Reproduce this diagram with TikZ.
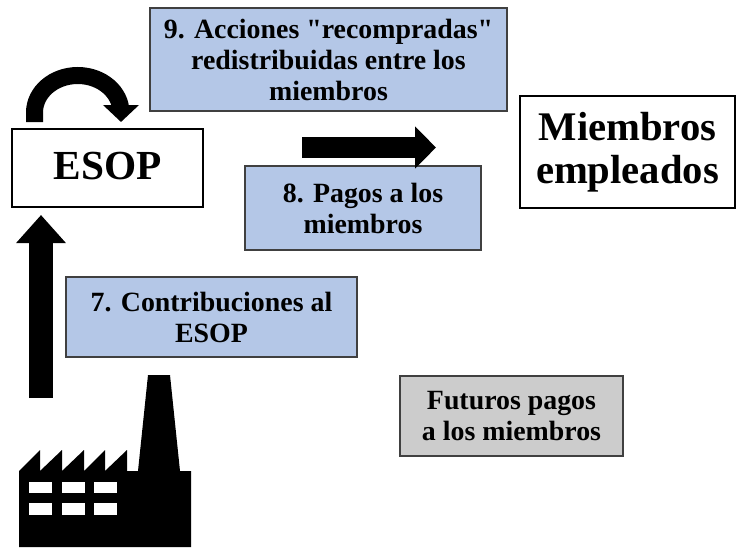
\documentclass[tikz,border=0pt]{standalone}
\usepackage{fontspec}
\setmainfont{Liberation Serif}[Ligatures=TeXOff]
\usetikzlibrary{arrows.meta}
\definecolor{azul}{HTML}{B4C7E7}
\definecolor{gris}{HTML}{CCCCCC}
\tikzset{
  caja/.style={draw=black,line width=1.9pt,fill=white,align=center,inner sep=0pt,font=\bfseries\fontsize{30.5}{32.5}\selectfont},
  nota/.style={draw=black!75,line width=0.8pt,align=center,inner sep=0pt,font=\bfseries\fontsize{20.9}{23.25}\selectfont},
  flecha/.style={draw=black,line width=#1}
}
\begin{document}
\begin{tikzpicture}[x=0.75pt,y=-0.75pt]
\useasboundingbox (0,0) rectangle (736,547);

\node[caja,minimum width=143.25pt,minimum height=58.5pt,text depth=3pt,font=\bfseries\fontsize{31}{32.5}\selectfont] (esop) at (107.5,168) {ESOP};
\node[caja,minimum width=161.25pt,minimum height=84pt] (miembros) at (627.5,152) {Miembros\\empleados};
\node[nota,fill=azul,minimum width=267.75pt,minimum height=77.25pt] (nota9) at (328.5,59.5) {9. Acciones "recompradas"\\redistribuidas entre los\\miembros};
\node[nota,fill=azul,minimum width=177pt,minimum height=63pt] (nota8) at (363,208) {8. Pagos a los\\miembros};
\node[nota,fill=azul,minimum width=218.25pt,minimum height=60pt] (nota7) at (211.5,317) {7. Contribuciones al\\ESOP};
\node[nota,fill=gris,minimum width=167.25pt,minimum height=60pt] (futuros) at (511.5,416) {Futuros pagos\\a los miembros};

% flechas
\coordinate (sale7) at (41,398);
\coordinate (llega7) at (41,215);
\coordinate (sale8) at (302,147.5);
\coordinate (llega8) at (436,147.5);
\coordinate (sale9) at (34.5,122);
\coordinate (llega9) at (121,122);
\path[flecha=18pt,-{Triangle[length=21pt,width=36pt]}] (sale7) -- (llega7);
\path[flecha=15.75pt,-{Triangle[length=15.75pt,width=30.75pt]}] (sale8) -- (llega8);
\path[flecha=12.75pt,-{Triangle[length=12.75pt,width=26.25pt]}] (sale9) -- (34.5,112.5) arc[start angle=180,end angle=360,x radius=43.25,y radius=37] -- (llega9);

% fabrica
\fill (19,547) -- (19,471) -- (40,450) -- (40,471) -- (62,450) -- (62,471) -- (84,450) -- (84,471) -- (105,450) -- (105,471) -- (127,450) -- (127,471) -- (138,471) -- (148,375) -- (170,375) -- (180,471) -- (191,471) -- (191,547) -- cycle;
\foreach \x in {29,62,94} {
  \fill[white] (\x,482) rectangle ++(22.5,11);
  \fill[white] (\x,503) rectangle ++(22.5,12);
}
\end{tikzpicture}
\end{document}
